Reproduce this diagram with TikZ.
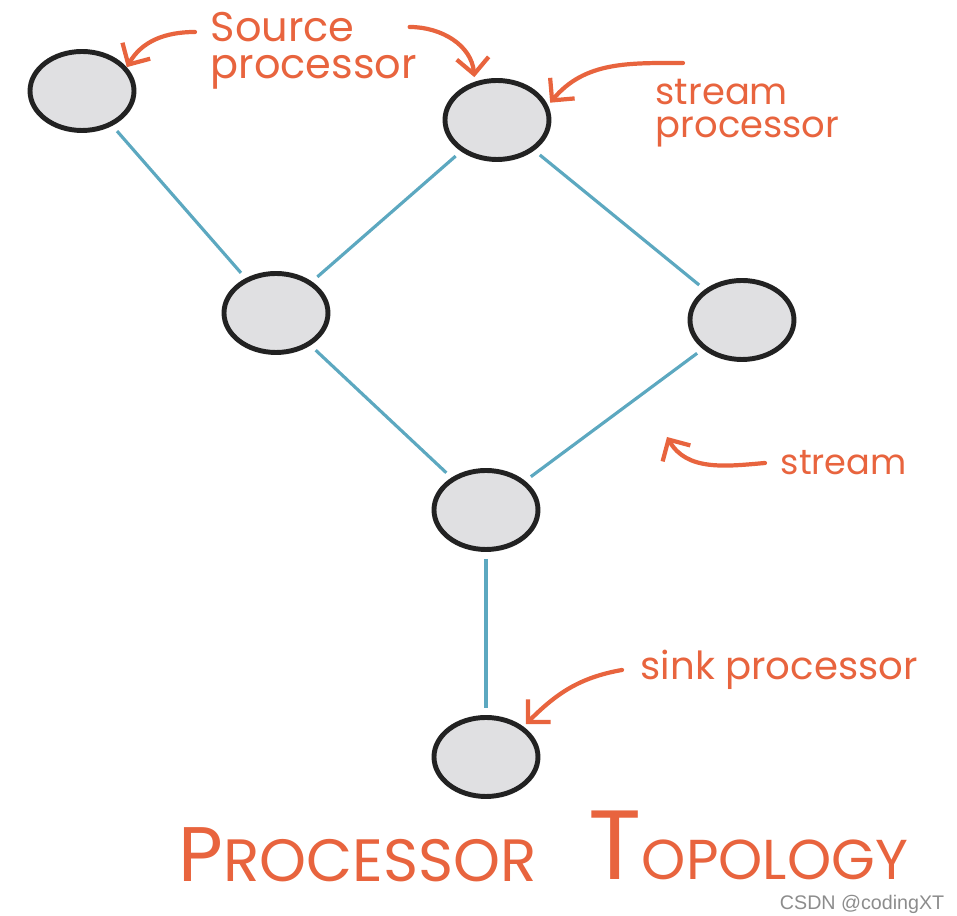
\documentclass[tikz,border=0pt]{standalone}
\usepackage{fontspec}
\setmainfont{Poppins}
\newfontfamily\markfont{Liberation Sans}
\usetikzlibrary{shapes.geometric,arrows.meta}
\definecolor{procfill}{RGB}{224,224,226}
\definecolor{procline}{RGB}{34,34,34}
\definecolor{streamcol}{RGB}{92,168,192}
\definecolor{notecol}{RGB}{232,100,62}

\begin{document}
\begin{tikzpicture}[
        proc/.style={ellipse, draw=procline, fill=procfill, line width=1.4pt, minimum width=1.04cm, minimum height=0.79cm, inner sep=0pt},
        stream/.style={draw=streamcol, line width=0.9pt, shorten <=2pt, shorten >=2pt},
        note/.style={text=notecol, font=\fontsize{10.5}{9.5}\selectfont, inner sep=0pt, align=left},
        pointer/.style={-{Straight Barb[length=1.6mm,width=3.2mm]}, draw=notecol, line width=1.2pt, line cap=round},
        title/.style={text=notecol, inner sep=0pt, font=\fontsize{17}{17}\selectfont}
    ]
    \useasboundingbox (0,0) rectangle (9.57,-9.16);

    % Processors
    \node[proc] (src) at (0.82,-0.91) {};
    \node[proc] (top) at (4.97,-1.20) {};
    \node[proc] (left) at (2.76,-3.13) {};
    \node[proc] (right) at (7.42,-3.20) {};
    \node[proc] (join) at (4.86,-5.10) {};
    \node[proc] (sink) at (4.86,-7.57) {};

    % Streams
    \draw[stream] (src) -- (left);
    \draw[stream] (top) -- (left);
    \draw[stream] (top) -- (right);
    \draw[stream] (left) -- (join);
    \draw[stream] (right) -- (join);
    \draw[stream] (join) -- (sink);

    % Labels
    \node[note, anchor=north west, font=\fontsize{11.8}{10.5}\selectfont] (srclabel) at (2.10,-0.12) {Source\\processor};
    \node[note, anchor=north west] (proclabel) at (6.55,-0.78) {stream\\processor};
    \node[note, anchor=west, font=\fontsize{10}{10}\selectfont] (streamlabel) at (7.80,-4.63) {stream};
    \node[note, anchor=west, font=\fontsize{11}{11}\selectfont] (sinklabel) at (6.40,-6.70) {sink processor};
    \coordinate (onstream) at (6.67,-4.37);

    % Pointers
    \draw[pointer] ([shift={(-0.15,-0.20)}]srclabel.north west) to[out=180,in=60] (src.28);
    \draw[pointer] ([shift={(-0.08,-0.15)}]srclabel.north east) to[out=0,in=95] ([shift={(-0.02,0.04)}]top.118);
    \draw[pointer] ([shift={(0.28,0.15)}]proclabel.north west) to[out=180,in=50] ([shift={(0.03,0.01)}]top.18);
    \draw[pointer] ([xshift=-0.15cm]streamlabel.west) to[out=185,in=-60] (onstream);
    \draw[pointer] ([xshift=-0.18cm]sinklabel.west) to[out=190,in=45] ([shift={(0.03,0.02)}]sink.40);

    % Title
    \node[title, anchor=base west] (title1) at (1.78,-8.82) {{\fontsize{22}{22}\selectfont P}ROCESSOR};
    \node[title, anchor=base west, font=\fontsize{16}{16}\selectfont] (title2) at (5.88,-8.80) {{\fontsize{28}{28}\selectfont T}OPOLOGY};
    \node[anchor=base east, inner sep=0pt, text=black!45, font=\markfont\fontsize{5.6}{6}\selectfont] (mark) at (9.45,-9.10) {CSDN @codingXT};

\end{tikzpicture}
\end{document}
